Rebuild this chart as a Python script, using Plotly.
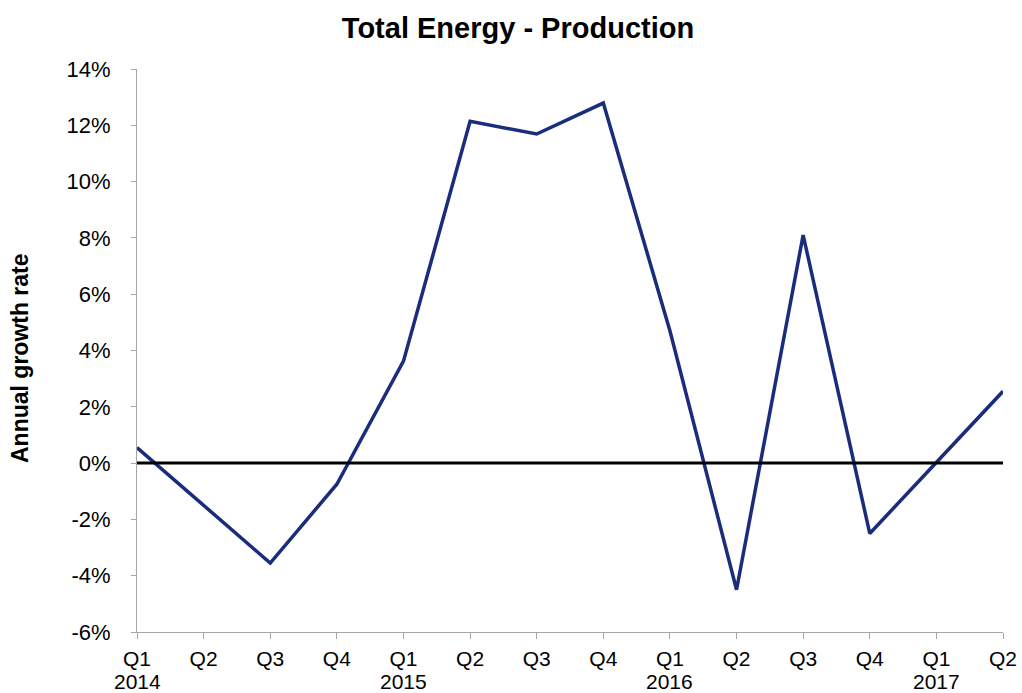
import plotly.graph_objects as go

quarters = ["Q1", "Q2", "Q3", "Q4", "Q1", "Q2", "Q3", "Q4", "Q1", "Q2", "Q3", "Q4", "Q1", "Q2"]
years = ["2014", "", "", "", "2015", "", "", "", "2016", "", "", "", "2017", ""]
growth = [0.55, -1.5, -3.55, -0.75, 3.62, 12.14, 11.69, 12.79, 4.7, -4.5, 8.1, -2.5, 0.03, 2.55]
y_ticks = [-6, -4, -2, 0, 2, 4, 6, 8, 10, 12, 14]
y_tick_labels = [f"{v}%" for v in y_ticks]

x_pos = list(range(len(quarters)))

W, H = 1022, 693
L, R, T, B = 137, 19, 69, 61
PH = H - T - B

fig = go.Figure()
fig.add_trace(go.Scatter(
    x=x_pos, y=growth, mode="lines",
    line=dict(color="#1a2d7c", width=3.5),
    showlegend=False, hoverinfo="skip",
))

fig.add_shape(type="line", xref="paper", yref="y", x0=0, x1=1, y0=0, y1=0,
              line=dict(color="black", width=3), layer="above")

annotations = [dict(text="<b>Annual growth rate</b>", xref="paper", yref="paper",
                    x=(20 - L) / (W - L - R), y=(632 - 358) / PH, textangle=-90,
                    showarrow=False, xanchor="center", yanchor="middle",
                    font=dict(size=23))]
for xp, yr in zip(x_pos, years):
    if yr:
        annotations.append(dict(text=yr, xref="x", yref="paper", x=xp, y=-(681 - 632) / PH,
                                showarrow=False, xanchor="center", yanchor="middle",
                                font=dict(size=21)))

fig.update_layout(
    width=W, height=H,
    paper_bgcolor="white", plot_bgcolor="white",
    margin=dict(l=L, r=R, t=T, b=B, autoexpand=False),
    font=dict(family="Liberation Sans, Arial, sans-serif", size=22, color="black"),
    title=dict(text="<b>Total Energy - Production</b>", x=518 / W, xanchor="center",
               y=1 - 28 / H, yanchor="middle", font=dict(size=29)),
    xaxis=dict(range=[0, len(quarters) - 1], tickvals=x_pos, ticktext=quarters,
               showgrid=False, zeroline=False, showline=True, linecolor="#a6a6a6", linewidth=1,
               ticks="outside", ticklen=6, tickcolor="#a6a6a6", tickangle=0,
               ticklabelstandoff=2, automargin=False, tickfont=dict(size=21)),
    yaxis=dict(range=[-6, 14], tickvals=y_ticks, ticktext=y_tick_labels,
               showgrid=False, zeroline=False, showline=True, linecolor="#a6a6a6", linewidth=1,
               ticks="outside", ticklen=5, tickcolor="#a6a6a6", ticklabelstandoff=16,
               automargin=False),
    annotations=annotations,
)

fig.write_html(
    "out.html",
    config={"displayModeBar": False},
    post_script="document.body.style.margin='0';document.body.style.overflow='hidden';",
)
